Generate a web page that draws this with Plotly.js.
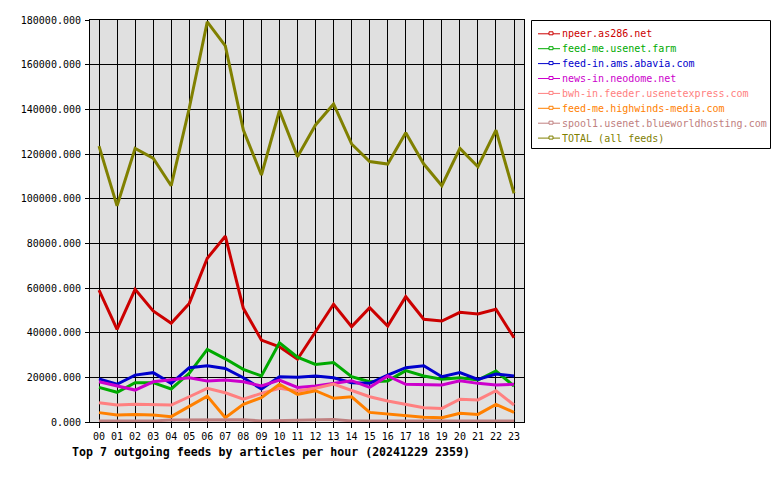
<!DOCTYPE html>
<html>
<head>
<meta charset="utf-8">
<script src="https://cdn.plot.ly/plotly-3.0.1.min.js"></script>
<style>html,body{margin:0;padding:0;background:#fff;}#chart{width:780px;height:480px;}</style>
</head>
<body>
<div id="chart"></div>
<script>
const hours = ['00','01','02','03','04','05','06','07','08','09','10','11','12','13','14','15','16','17','18','19','20','21','22','23'];

const feedNames = [
  'npeer.as286.net',
  'feed-me.usenet.farm',
  'feed-in.ams.abavia.com',
  'news-in.neodome.net',
  'bwh-in.feeder.usenetexpress.com',
  'feed-me.highwinds-media.com',
  'spool1.usenet.blueworldhosting.com',
  'TOTAL (all feeds)'
];
const feedColors = ['#cc0000','#00aa00','#0000cc','#cc00cc','#ff8080','#ff8000','#c08080','#808000'];

const npeer    = [59100, 41500, 59400, 49700, 44200, 53100, 73300, 83200, 50900, 36700, 33700, 28100, 40400, 52700, 42700, 51200, 43000, 56100, 46000, 45200, 49100, 48400, 50500, 37700];
const usenetFarm = [15500, 13300, 17600, 17600, 14800, 21800, 32500, 28300, 23600, 20600, 35500, 29000, 25800, 26600, 20300, 18000, 18400, 23000, 20600, 19100, 19800, 18800, 22800, 16100];
const abavia   = [19300, 16900, 21000, 22100, 17300, 24300, 25200, 24000, 19800, 14800, 20300, 20000, 20600, 19800, 17600, 17300, 21000, 24300, 25200, 20300, 22100, 19100, 21500, 20600];
const neodome  = [18000, 16100, 14300, 18000, 18800, 19800, 18400, 18800, 18000, 16100, 18800, 15500, 16100, 17300, 18500, 15500, 20600, 16900, 16900, 16600, 18500, 17300, 16600, 16900];
const usenetExpress = [8600, 7600, 7900, 7600, 7600, 11300, 15100, 13100, 10200, 12800, 15100, 13900, 15100, 17000, 14300, 11300, 9400, 7900, 6400, 6100, 10200, 9900, 14000, 7600];
const highwinds = [4200, 3100, 3400, 3100, 2400, 6900, 11600, 1900, 7900, 10900, 16900, 12400, 14000, 10600, 11300, 4300, 3600, 2800, 2100, 1900, 3900, 3400, 7900, 4300];
const blueworld = [500, 500, 500, 500, 900, 900, 900, 1000, 1000, 500, 600, 1000, 1100, 1100, 500, 500, 500, 500, 500, 500, 500, 500, 500, 500];
const total    = [123500, 96800, 122500, 118100, 105800, 140500, 179200, 168400, 130700, 110600, 139400, 118800, 133000, 142400, 124500, 116600, 115500, 129500, 115500, 105800, 122500, 114300, 130700, 102400];

const seriesValues = [npeer, usenetFarm, abavia, neodome, usenetExpress, highwinds, blueworld, total];

const FONT = 'DejaVu Sans Mono, Liberation Mono, monospace';

const traces = seriesValues.map((vals, i) => ({
  type: 'scatter',
  mode: 'lines',
  x: hours,
  y: vals,
  name: feedNames[i],
  line: {color: feedColors[i], width: 3},
  showlegend: false,
  hoverinfo: 'skip'
}));

// plot area geometry (pixels) for the hand-built legend
const L = 90, R = 256, T = 20, B = 58, W = 780, H = 480;
const pw = W - L - R, ph = H - T - B;
const px = x => (x - L) / pw;
const py = y => (H - B - y) / ph;

const shapes = [{
  type: 'rect', xref: 'paper', yref: 'paper',
  x0: px(531.5), x1: px(770.5), y0: py(20.5), y1: py(148.5),
  line: {color: '#000', width: 1}, fillcolor: '#fff', layer: 'above'
}];
const annotations = [];
feedNames.forEach((name, i) => {
  const yc = 33.8 + i * 14.9;
  shapes.push({type: 'line', xref: 'paper', yref: 'paper', x0: px(538), x1: px(560), y0: py(yc), y1: py(yc), line: {color: feedColors[i], width: 1}, layer: 'above'});
  shapes.push({type: 'rect', xref: 'paper', yref: 'paper', x0: px(549), x1: px(553), y0: py(yc + 1), y1: py(yc - 2), line: {color: feedColors[i], width: 1}, fillcolor: '#fff', layer: 'above'});
  annotations.push({
    xref: 'paper', yref: 'paper', x: px(559.5), y: py(yc), xanchor: 'left', yanchor: 'middle',
    text: name, showarrow: false, font: {family: FONT, size: 10, color: feedColors[i]}
  });
});

const layout = {
  width: W, height: H,
  margin: {l: L, r: R, t: T, b: B, pad: 0},
  paper_bgcolor: '#ffffff',
  plot_bgcolor: '#e0e0e0',
  showlegend: false,
  hovermode: false,
  font: {family: FONT, size: 10, color: '#000'},
  title: {
    text: 'Top 7 outgoing feeds by articles per hour (20241229 2359)',
    font: {family: FONT, size: 11.6, color: '#000', weight: 'bold'},
    xref: 'container', yref: 'container',
    x: 72 / W, xanchor: 'left',
    y: 1 - 452 / H, yanchor: 'middle'
  },
  xaxis: {
    type: 'category',
    range: [-0.5, 23.554],
    showgrid: true, gridcolor: '#000', gridwidth: 1,
    showline: true, linecolor: '#000', linewidth: 1, mirror: true,
    ticks: 'outside', ticklen: 5, tickcolor: '#000', tickwidth: 1,
    tickfont: {family: FONT, size: 10, color: '#000'},
    zeroline: false, fixedrange: true
  },
  yaxis: {
    range: [0, 180000],
    tick0: 0, dtick: 20000,
    tickformat: '.3f',
    showgrid: true, gridcolor: '#000', gridwidth: 1,
    showline: true, linecolor: '#000', linewidth: 1, mirror: true,
    ticks: 'outside', ticklen: 4, tickcolor: '#000', tickwidth: 1,
    ticklabelstandoff: 2,
    tickfont: {family: FONT, size: 10, color: '#000'},
    zeroline: false, fixedrange: true
  },
  shapes: shapes,
  annotations: annotations
};

Plotly.newPlot('chart', traces, layout, {staticPlot: true, displayModeBar: false});
</script>
</body>
</html>
